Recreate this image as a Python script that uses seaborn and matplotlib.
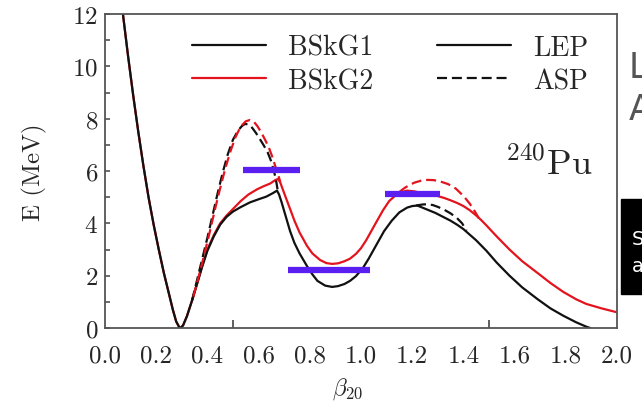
import matplotlib
matplotlib.use("Agg")
import matplotlib.pyplot as plt
import seaborn as sns
import numpy as np
import pandas as pd
from matplotlib.lines import Line2D
from matplotlib.patches import Rectangle

# ---------------- data ----------------
beta_g1_lep = [0.07, 0.09, 0.11, 0.13, 0.15, 0.17, 0.19, 0.21, 0.23, 0.25, 0.265, 0.278,
               0.29, 0.295, 0.305, 0.32, 0.34, 0.363, 0.38, 0.40, 0.425, 0.45, 0.475,
               0.50, 0.53, 0.566, 0.60, 0.63, 0.655, 0.672, 0.68, 0.69, 0.705, 0.723,
               0.74, 0.76, 0.79, 0.81, 0.83, 0.86, 0.887, 0.91, 0.935, 0.957, 0.98,
               1.008, 1.03, 1.05, 1.07, 1.09, 1.12, 1.15, 1.18, 1.20, 1.22, 1.24,
               1.26, 1.29, 1.31, 1.35, 1.375, 1.40, 1.45, 1.49, 1.53, 1.58, 1.63,
               1.69, 1.74, 1.79, 1.84, 1.88, 1.895]
E_g1_lep = [12.0, 10.4, 8.9, 7.5, 6.2, 5.0, 3.95, 3.0, 2.1, 1.3, 0.7, 0.25,
            0.03, 0.0, 0.1, 0.45, 1.05, 1.8, 2.35, 2.95, 3.5, 3.95, 4.25,
            4.45, 4.62, 4.8, 4.92, 5.02, 5.15, 5.25, 5.1, 4.8, 4.3, 3.7,
            3.25, 2.85, 2.35, 2.05, 1.8, 1.62, 1.57, 1.6, 1.68, 1.8, 1.98,
            2.3, 2.65, 3.0, 3.35, 3.7, 4.1, 4.42, 4.6, 4.66, 4.68, 4.6,
            4.52, 4.4, 4.3, 4.1, 3.95, 3.78, 3.35, 2.95, 2.5, 2.0, 1.55,
            1.1, 0.75, 0.47, 0.22, 0.05, 0.0]

beta_g2_lep = [0.07, 0.09, 0.11, 0.13, 0.15, 0.17, 0.19, 0.21, 0.23, 0.25, 0.265, 0.278,
               0.29, 0.295, 0.305, 0.32, 0.34, 0.363, 0.38, 0.40, 0.425, 0.45, 0.475,
               0.50, 0.53, 0.56, 0.594, 0.62, 0.645, 0.665, 0.676, 0.685, 0.70, 0.723,
               0.74, 0.76, 0.789, 0.81, 0.84, 0.865, 0.887, 0.91, 0.935, 0.957, 0.98,
               1.0, 1.02, 1.04, 1.06, 1.086, 1.11, 1.135, 1.16, 1.18, 1.21, 1.24,
               1.27, 1.297, 1.325, 1.35, 1.375, 1.40, 1.425, 1.45, 1.47, 1.49, 1.53,
               1.58, 1.63, 1.69, 1.74, 1.79, 1.84, 1.88, 1.94, 2.0]
E_g2_lep = [12.0, 10.4, 8.9, 7.5, 6.2, 5.0, 3.95, 3.0, 2.1, 1.3, 0.7, 0.25,
            0.03, 0.0, 0.1, 0.45, 1.05, 1.8, 2.4, 3.0, 3.55, 4.0, 4.3,
            4.55, 4.85, 5.1, 5.3, 5.42, 5.52, 5.65, 5.7, 5.55, 5.15, 4.55,
            4.1, 3.65, 3.14, 2.85, 2.6, 2.48, 2.45, 2.47, 2.55, 2.65, 2.83,
            3.05, 3.35, 3.7, 4.05, 4.5, 4.85, 5.07, 5.2, 5.25, 5.22, 5.15,
            5.1, 5.05, 4.97, 4.88, 4.78, 4.66, 4.5, 4.3, 4.12, 3.92, 3.5,
            3.0, 2.55, 2.1, 1.72, 1.38, 1.1, 0.92, 0.75, 0.6]

beta_g1_asp1 = [0.34, 0.355, 0.37, 0.385, 0.40, 0.42, 0.44, 0.46, 0.48, 0.50, 0.52,
                0.535, 0.547, 0.56, 0.575, 0.59, 0.605, 0.62, 0.635, 0.648, 0.66,
                0.668, 0.674]
E_g1_asp1 = [1.05, 1.65, 2.25, 2.85, 3.45, 4.3, 5.15, 5.95, 6.65, 7.2, 7.55,
             7.72, 7.8, 7.78, 7.65, 7.45, 7.22, 6.98, 6.72, 6.4, 6.0,
             5.65, 5.3]
beta_g2_asp1 = [0.345, 0.36, 0.375, 0.39, 0.41, 0.43, 0.45, 0.47, 0.49, 0.51, 0.53,
                0.55, 0.566, 0.58, 0.595, 0.61, 0.625, 0.64, 0.655, 0.668, 0.678,
                0.685]
E_g2_asp1 = [1.2, 1.75, 2.3, 2.9, 3.7, 4.55, 5.35, 6.1, 6.75, 7.3, 7.7,
             7.9, 7.95, 7.9, 7.72, 7.48, 7.2, 6.9, 6.5, 6.1, 5.8,
             5.58]

beta_g1_asp2 = [1.215, 1.24, 1.26, 1.28, 1.30, 1.325, 1.35, 1.375, 1.395, 1.412]
E_g1_asp2 = [4.68, 4.72, 4.73, 4.7, 4.63, 4.52, 4.38, 4.2, 4.0, 3.72]
beta_g2_asp2 = [1.15, 1.17, 1.19, 1.21, 1.235, 1.26, 1.285, 1.31, 1.34, 1.37, 1.40,
                1.425, 1.445, 1.46]
E_g2_asp2 = [5.2, 5.35, 5.47, 5.56, 5.63, 5.66, 5.65, 5.6, 5.5, 5.33, 5.05,
             4.75, 4.45, 4.2]

# experimental levels (purple bars): start, end, energy
exp_beta_start = [0.539, 0.715, 1.094]
exp_beta_end = [0.762, 1.035, 1.309]
exp_E = [6.04, 2.22, 5.14]

x_ticks = [0.0, 0.2, 0.4, 0.6, 0.8, 1.0, 1.2, 1.4, 1.6, 1.8, 2.0]
y_ticks = [0, 2, 4, 6, 8, 10, 12]
legend_labels = ["BSkG1", "BSkG2", "LEP", "ASP"]

# ---------------- style ----------------
sns.set_theme(style="ticks")
plt.rcParams.update({
    "font.family": "serif",
    "font.serif": ["cmr10", "DejaVu Serif"],
    "mathtext.fontset": "cm",
    "axes.formatter.use_mathtext": True,
    "axes.unicode_minus": False,
})

BLACK = "#111111"
RED = "#e3141e"
PURPLE = "#5b1ff2"
DASH = (0, (4.5, 2.2))

fig = plt.figure(figsize=(6.42, 4.06), dpi=100)
ax = fig.add_axes([105 / 642, 77 / 406, 512 / 642, 314 / 406])

curves = [
    (beta_g2_lep, E_g2_lep, RED, "-"),
    (beta_g1_lep, E_g1_lep, BLACK, "-"),
    (beta_g1_asp1, E_g1_asp1, BLACK, DASH),
    (beta_g2_asp1, E_g2_asp1, RED, DASH),
    (beta_g1_asp2, E_g1_asp2, BLACK, DASH),
    (beta_g2_asp2, E_g2_asp2, RED, DASH),
]
for bx, ey, col, ls in curves:
    df = pd.DataFrame({"beta": bx, "E": ey})
    sns.lineplot(data=df, x="beta", y="E", ax=ax, color=col, linewidth=1.6,
                 linestyle=ls, sort=False, estimator=None)

for b0, b1, e in zip(exp_beta_start, exp_beta_end, exp_E):
    df = pd.DataFrame({"beta": [b0, b1], "E": [e, e]})
    sns.lineplot(data=df, x="beta", y="E", ax=ax, color=PURPLE, linewidth=4.5,
                 sort=False, estimator=None, solid_capstyle="butt")

ax.set_xlim(0, 2.0)
ax.set_ylim(0, 12)
ax.set_xticks(x_ticks)
ax.set_xticklabels([f"{t:.1f}" for t in x_ticks])
ax.set_xticks([0.5, 1.0, 1.5], minor=True)
ax.set_yticks(y_ticks)
ax.set_yticks([1, 3, 5, 7, 9, 11], minor=True)
ax.tick_params(axis="x", which="major", length=0, pad=12, labelsize=18)
ax.tick_params(axis="x", which="minor", length=6, width=1.2, direction="in",
               color="#444444")
ax.tick_params(axis="y", which="both", length=3.5, width=1.1, direction="in",
               pad=5, labelsize=18, color="#444444")
ax.set_xlabel(r"$\beta_{20}$", fontsize=17)
ax.xaxis.set_label_coords(0.473, -0.150)
ax.set_ylabel("E (MeV)", fontsize=18, labelpad=18)
for s in ax.spines.values():
    s.set_color("#555555")
    s.set_linewidth(1.3)

handles = [Line2D([], [], color=BLACK, lw=1.6),
           Line2D([], [], color=RED, lw=1.6),
           Line2D([], [], color=BLACK, lw=1.6),
           Line2D([], [], color=BLACK, lw=1.6, linestyle=DASH)]
ax.legend(handles, legend_labels, ncol=2, frameon=False, loc="upper left",
          bbox_to_anchor=(0.148, 0.97), borderaxespad=0, fontsize=20,
          handlelength=2.66, handletextpad=0.8, columnspacing=2.3,
          labelspacing=0.25)

ax.text(0.953, 0.49, r"$^{240}\mathrm{Pu}$", transform=ax.transAxes,
        ha="right", va="baseline", fontsize=26)

# fragments of a neighbouring slide at the right edge
fig.text(629 / 642, (406 - 78) / 406, "L", color="#555555", fontsize=25,
         family="DejaVu Sans", ha="left", va="baseline")
fig.text(629 / 642, (406 - 120) / 406, "A", color="#555555", fontsize=25,
         family="DejaVu Sans", ha="left", va="baseline")
fig.patches.append(Rectangle((621 / 642, (406 - 295) / 406), 21 / 642, 95 / 406,
                             transform=fig.transFigure, color="black", zorder=5))
fig.text(632 / 642, (406 - 245) / 406, "S", color="white", fontsize=14,
         family="DejaVu Sans", ha="left", va="baseline", zorder=6)
fig.text(632 / 642, (406 - 272) / 406, "a", color="white", fontsize=14,
         family="DejaVu Sans", ha="left", va="baseline", zorder=6)

fig.savefig("out.png", dpi=100)
